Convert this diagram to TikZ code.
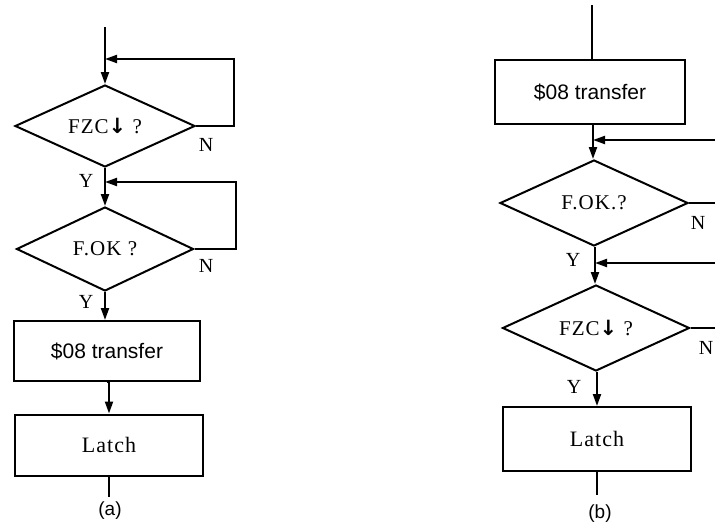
\documentclass[tikz,border=0pt]{standalone}
\usepackage{fontspec}
\newfontfamily\serw[LetterSpace=5]{Liberation Serif}
\newfontfamily\serf{Liberation Serif}
\newfontfamily\sansf{Liberation Sans}
\newfontfamily\arrf{DejaVu Sans}
\usetikzlibrary{shapes.geometric,arrows.meta}
\begin{document}
\begin{tikzpicture}[x=1pt,y=-1pt,line width=2pt,
  dec/.style={draw,diamond,inner sep=0pt,aspect=2.2,font=\serw\fontsize{21}{21}\selectfont},
  proc/.style={draw,rectangle,inner sep=0pt},
  sanstxt/.style={font=\sansf\fontsize{21}{21}\selectfont},
  sertxt/.style={font=\serw\fontsize{22}{22}\selectfont},
  yn/.style={font=\serf\fontsize{20}{20}\selectfont,inner sep=0pt},
  captxt/.style={font=\sansf\fontsize{19}{19}\selectfont,inner sep=0pt},
  flow/.style={-{Triangle[length=12pt,width=8pt]}}]
\useasboundingbox (0,0) rectangle (715,530);
% ---------- (a) ----------
\coordinate (ta) at (105,27);
\node[dec,minimum width=180pt,minimum height=82pt] (d1) at (105,126) {FZC{\arrf\bfseries ↓} ?};
\node[dec,minimum width=177pt,minimum height=84pt] (d2) at (105,249) {F.OK ?};
\node[proc,sanstxt,minimum width=186pt,minimum height=60pt] (b1) at (107,351) {\$08 transfer};
\node[proc,sertxt,minimum width=188pt,minimum height=61pt] (b2) at (109,445) {Latch};
\coordinate (ea) at (109,497);
\coordinate (j1) at (105,59);
\coordinate (j2) at (105,182);
\coordinate (r1) at (234,59);
\coordinate (r2) at (236,182);
\draw[flow] (ta) -- (d1.north);
\draw[flow] (d1.south) -- (d2.north);
\draw[flow] (d2.south) -- (d2.south |- b1.north);
\draw[flow] (b1.south) -- (b1.south -| b2.north) -- (b2.north);
\draw (b2.south) -- (ea);
\draw[flow] (d1.east) -| (r1) -- (j1);
\draw[flow] (d2.east) -| (r2) -- (j2);
\node[yn] (n1) at (206,145) {N};
\node[yn] (n2) at (206,266) {N};
\node[yn] (y1) at (86,181) {Y};
\node[yn] (y2) at (86,302) {Y};
\node[captxt] (la) at (110,511) {(a)};
% ---------- (b) ----------
\coordinate (tb) at (592,5);
\node[proc,sanstxt,minimum width=190pt,minimum height=64pt] (b3) at (590,92) {\$08 transfer};
\node[dec,minimum width=188pt,minimum height=86pt] (d3) at (594,203) {F.OK.?};
\node[dec,minimum width=187pt,minimum height=86pt] (d4) at (596,328) {FZC{\arrf\bfseries ↓} ?};
\node[proc,sertxt,minimum width=188pt,minimum height=64pt] (b4) at (597,439) {Latch};
\coordinate (eb) at (597,495);
\coordinate (j3) at (593,140);
\coordinate (j4) at (595,263);
\coordinate (x3) at (720,140);
\coordinate (x4) at (720,263);
\coordinate (o3) at (720,203);
\coordinate (o4) at (720,328);
\draw (tb) -- (tb |- b3.north);
\draw[flow] (b3.south -| j3) -- (d3.north -| j3);
\draw[flow] (d3.south -| j4) -- (d4.north -| j4);
\draw[flow] (d4.south -| b4.north) -- (b4.north);
\draw (b4.south) -- (eb);
\draw[flow] (x3) -- (j3);
\draw[flow] (x4) -- (j4);
\draw (d3.east) -- (o3);
\draw (d4.east) -- (o4);
\node[yn] (n3) at (698,223) {N};
\node[yn] (n4) at (706,348) {N};
\node[yn] (y3) at (573,260) {Y};
\node[yn] (y4) at (574,387) {Y};
\node[captxt] (lb) at (600,514) {(b)};
\end{tikzpicture}
\end{document}
